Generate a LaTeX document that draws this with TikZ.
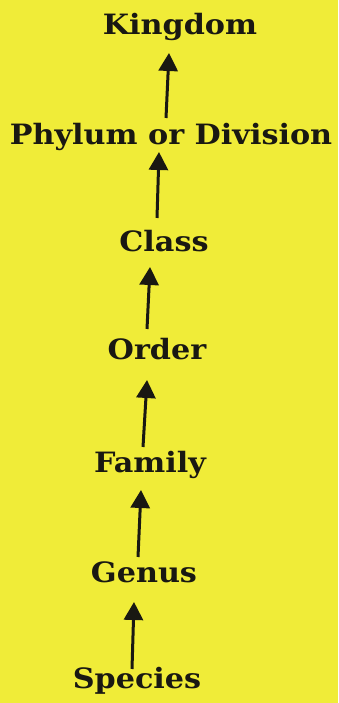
\documentclass[tikz,border=0pt]{standalone}
\usepackage{fontspec}
\setmainfont{DejaVu Serif}[FakeStretch=1.08]
\usetikzlibrary{arrows.meta}
\definecolor{bg}{RGB}{240,236,56}
\definecolor{ink}{RGB}{25,24,18}
\tikzset{
  lbl/.style={anchor=base, inner sep=0pt, text=ink, font=\fontsize{28}{32}\selectfont\bfseries},
  uparrow/.style={draw=ink, line width=3pt, -{Triangle[width=19pt,length=18pt]}}
}
\begin{document}
\begin{tikzpicture}[x=1pt,y=1pt]
\fill[bg] (0,0) rectangle (338,703);
\useasboundingbox (0,0) rectangle (338,703);
% labels (x center, baseline) with y = 703 - pixel y
\node[lbl] (kingdom) at (180,668) {Kingdom};
\node[lbl] (phylum)  at (171,558) {Phylum or Division};
\node[lbl] (class)   at (164,451) {Class};
\node[lbl] (order)   at (157,343) {Order};
\node[lbl] (family)  at (150,230) {Family};
\node[lbl] (genus)   at (144,120) {Genus};
\node[lbl] (species) at (137,14)  {Species};
% arrow end points
\coordinate (a1t) at (169,650); \coordinate (a1b) at (166,585);
\coordinate (a2t) at (159,551); \coordinate (a2b) at (157,485);
\coordinate (a3t) at (150,436); \coordinate (a3b) at (147,374);
\coordinate (a4t) at (147,323); \coordinate (a4b) at (143,256);
\coordinate (a5t) at (141,213); \coordinate (a5b) at (138,146);
\coordinate (a6t) at (134,101); \coordinate (a6b) at (132,34);
\draw[uparrow] (a1b) -- (a1t);
\draw[uparrow] (a2b) -- (a2t);
\draw[uparrow] (a3b) -- (a3t);
\draw[uparrow] (a4b) -- (a4t);
\draw[uparrow] (a5b) -- (a5t);
\draw[uparrow] (a6b) -- (a6t);
\end{tikzpicture}
\end{document}
